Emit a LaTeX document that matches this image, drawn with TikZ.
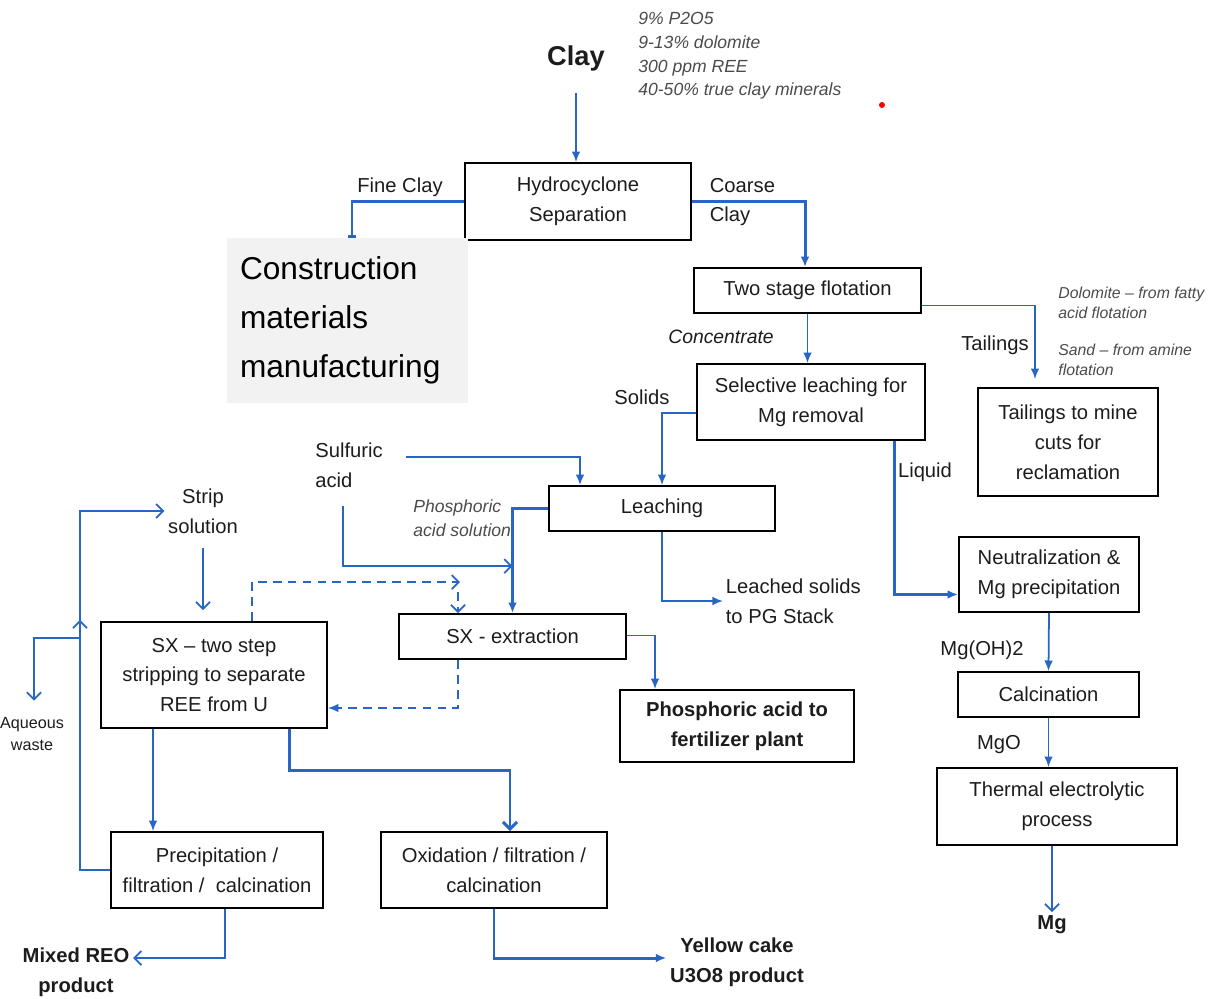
\documentclass[tikz,border=0pt]{standalone}
\usepackage{fontspec}
\setmainfont{Liberation Sans}
\usetikzlibrary{arrows.meta,decorations.markings}
\definecolor{bleu}{RGB}{40,102,198}
\definecolor{texte}{RGB}{28,28,28}
\definecolor{gristexte}{RGB}{75,75,75}
\definecolor{fond}{RGB}{242,242,242}
\newcommand\boitefont{\fontsize{11.5}{17}\selectfont}
\newcommand\grasfont{\fontsize{11.5}{17}\selectfont\bfseries}
\newcommand\notefont{\fontsize{10}{13.4}\selectfont\itshape}
\newcommand\petitnote{\fontsize{9}{11.4}\selectfont\itshape}
\newcommand\grandfont{\fontsize{18}{27.8}\selectfont}
\begin{document}
\begin{tikzpicture}[x=0.02cm,y=-0.02cm,
  boite/.style={draw=black,line width=1.1pt,inner sep=0pt,align=center,text=texte,font=\boitefont},
  etiq/.style={inner sep=2pt,align=center,text=texte,font=\boitefont},
  fleche/.style={draw=bleu,line width=1pt,-{Latex[length=6pt,width=5pt]}},
  ouverte/.style={draw=bleu,line width=1pt,-{Straight Barb[length=4pt,width=8pt]}},
  epais/.style={line width=1.7pt},
  tirets/.style={dash pattern=on 5pt off 3.5pt}]
\useasboundingbox (0,0) rectangle (1211,998);
\clip (0,0) rectangle (1211,998);
% Argile et separation
\node[etiq,font=\fontsize{15.5}{18}\selectfont\bfseries] (clay) at (576,58) {Clay};
\node[etiq,anchor=west,inner sep=0pt,align=left,font=\notefont,text=gristexte] (analyse) at (638,56)
  {9\% P2O5\\9-13\% dolomite\\300 ppm REE\\40-50\% true clay minerals};
\fill[red] (882,105) circle (0.06cm);
\node[boite,minimum width=4.52cm,minimum height=1.54cm] (hydro) at (578,201.5) {Hydrocyclone\\Separation};
\node[fill=fond,minimum width=4.82cm,minimum height=3.3cm,text width=4.3cm,inner xsep=0.26cm,inner ysep=0pt,
  align=left,font=\grandfont,text=black] (construction) at (347.5,320.5) {Construction\\materials\\manufacturing};
\node[etiq] (fine) at (400,187) {Fine Clay};
\node[etiq,anchor=west,align=left] (coarse) at (706,202) {Coarse\\Clay};
% Flottation
\node[boite,minimum width=4.54cm,minimum height=0.9cm] (twostage) at (807.5,290.5) {Two stage flotation};
\node[boite,minimum width=4.56cm,minimum height=1.52cm] (selective) at (811,402) {Selective leaching for\\Mg removal};
\node[boite,minimum width=3.6cm,minimum height=2.16cm] (tailbox) at (1068,442) {Tailings to mine\\cuts for\\reclamation};
\node[etiq,font=\fontsize{11}{14}\selectfont\itshape] (concentrate) at (721,337) {Concentrate};
\node[etiq] (tailings) at (995,345) {Tailings};
\node[etiq,anchor=west,inner sep=0pt,align=left,font=\petitnote,text=gristexte] (dolomite) at (1058,303)
  {Dolomite – from fatty\\acid flotation};
\node[etiq,anchor=west,inner sep=0pt,align=left,font=\petitnote,text=gristexte] (sand) at (1058,359.5)
  {Sand – from amine\\flotation};
% Lixiviation
\node[boite,minimum width=4.52cm,minimum height=0.9cm] (leaching) at (662,508.5) {Leaching};
\node[etiq] (solids) at (642,397) {Solids};
\node[etiq] (liquid) at (925,472) {Liquid};
\node[etiq,anchor=west,inner sep=0pt,text width=1.8cm,align=left] (sulfuric) at (315,465) {Sulfuric\\acid};
\node[etiq,anchor=west,inner sep=0pt,align=left,font=\notefont,text=gristexte] (phossol) at (413,518)
  {Phosphoric\\acid solution};
\node[etiq,anchor=west,align=left,inner sep=0.05cm] (leached) at (723,601) {Leached solids\\to PG Stack};
% Extraction par solvant
\node[boite,minimum width=4.54cm,minimum height=0.9cm] (sxext) at (512.5,636.5) {SX - extraction};
\node[boite,minimum width=4.68cm,minimum height=1.44cm,font=\grasfont] (fert) at (737,726) {Phosphoric acid to\\fertilizer plant};
\node[boite,minimum width=4.52cm,minimum height=2.12cm] (sxtwo) at (214,675) {SX – two step\\stripping to separate\\REE from U};
\node[etiq] (strip) at (203,511) {Strip\\solution};
\node[etiq,font=\fontsize{9.2}{12.5}\selectfont] (aqueous) at (32,734) {Aqueous\\waste};
% Produits REE et uranium
\node[boite,minimum width=4.24cm,minimum height=1.52cm] (prec) at (217,870) {Precipitation /\\filtration /~ calcination};
\node[boite,minimum width=4.52cm,minimum height=1.52cm] (oxid) at (494,870) {Oxidation / filtration /\\calcination};
\node[etiq,font=\grasfont] (mixed) at (76,972) {Mixed REO\\product};
\node[etiq,font=\grasfont] (yellow) at (737,962) {Yellow cake\\U3O8 product};
% Magnesium
\node[boite,minimum width=3.6cm,minimum height=1.5cm] (neutral) at (1049,574.5) {Neutralization \&\\Mg precipitation};
\node[boite,minimum width=3.62cm,minimum height=0.9cm] (calc) at (1048.5,694.5) {Calcination};
\node[boite,minimum width=4.8cm,minimum height=1.54cm] (thermal) at (1057,806.5) {Thermal electrolytic\\process};
\node[etiq] (mgoh) at (982,650) {Mg(OH)2};
\node[etiq] (mgo) at (999,745) {MgO};
\node[etiq,font=\grasfont] (mg) at (1052,925) {Mg};
% Liaisons
\draw[fleche] (clay |- 0,93) -- (clay |- hydro.north);
\draw[bleu,epais,-{Bar[width=4pt]}] (hydro.west) -| ([xshift=0.09cm]construction.north);
\draw[fleche,epais] (hydro.east) -| ([xshift=-0.05cm]twostage.north);
\draw[fleche] (twostage.south) -- (twostage.south |- selective.north);
\draw[fleche] ([yshift=-0.3cm]twostage.east) -| ([xshift=-0.66cm,yshift=0.16cm]tailbox.north);
\draw[fleche] ([yshift=-0.22cm]selective.west) -| (leaching.north);
\draw[fleche,epais] ([xshift=1.68cm]selective.south) |- ([yshift=-0.4cm]neutral.west);
\draw[fleche] ([yshift=0.16cm]sulfuric.east) -| ([xshift=-1.64cm]leaching.north);
\draw[fleche,line width=1.3pt] (leaching.west) -| (sxext.north);
\draw[fleche] (leaching.south) |- (leached.west);
\draw[ouverte] (sulfuric.south west) ++(28,18) |- ([yshift=0.94cm]sxext.north);
\draw[fleche] ([yshift=0.02cm]sxext.east) -| ([xshift=-1.64cm]fert.north);
\draw[ouverte,tirets] ([xshift=0.76cm]sxtwo.north) |- ([xshift=-1.05cm,yshift=0.62cm]sxext.north);
\draw[ouverte,tirets] ([xshift=-1.09cm,yshift=0.42cm]sxext.north) -- ([xshift=-1.09cm]sxext.north);
\draw[fleche,tirets] ([xshift=-1.09cm]sxext.south) |- ([yshift=-0.66cm]sxtwo.east);
\draw[ouverte] (strip.south) ++(0,11) -- ([xshift=-0.22cm,yshift=0.22cm]sxtwo.north);
\coordinate (boucle) at (81,638);
\draw[ouverte,postaction={decorate},decoration={markings,
  mark=at position 0.592 with {\arrow{Straight Barb[length=4pt,width=8pt]}}}]
  (prec.west) -- ++(-30,0) |- (strip.west);
\draw[ouverte] (boucle) -| ([xshift=0.04cm,yshift=0.26cm]aqueous.north);
\draw[fleche] ([xshift=-1.22cm]sxtwo.south) -- ([xshift=-1.28cm]prec.north);
\draw[ouverte,epais] ([xshift=1.52cm]sxtwo.south) -- ++(0,42) -| ([xshift=0.32cm]oxid.north);
\draw[ouverte] ([xshift=0.16cm]prec.south) |- ([yshift=0.28cm]mixed.east);
\draw[fleche,epais] (oxid.south) |- ([yshift=0.08cm]yellow.west);
\draw[fleche] (neutral.south) -- (calc.north);
\draw[fleche] (calc.south) -- (calc.south |- thermal.north);
\draw[ouverte] ([xshift=-0.1cm]thermal.south) -- (mg.north);
\end{tikzpicture}
\end{document}
